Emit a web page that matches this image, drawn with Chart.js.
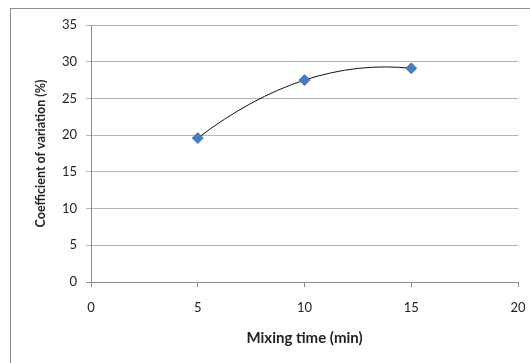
<!DOCTYPE html>
<html>
<head>
<meta charset="utf-8">
<script src="https://cdn.jsdelivr.net/npm/chart.js@4"></script>
<style>
  html, body { margin: 0; padding: 0; background: #fff; }
  #wrap { position: relative; width: 530px; height: 363px; overflow: hidden; }
  #frame { position: absolute; left: 10px; top: 8px; width: 600px; height: 400px; border: 1px solid #8c8c8c; }
  #chart { position: absolute; left: 0; top: 0; }
</style>
</head>
<body>
<div id="wrap">
  <div id="frame"></div>
  <canvas id="chart" width="530" height="363"></canvas>
</div>
<script>
// --- Data ---
const mixingTimes = [5, 10, 15];
const cvValues = [19.6, 27.5, 29.1];
const xTicks = [0, 5, 10, 15, 20];
const yTicks = [0, 5, 10, 15, 20, 25, 30, 35];

const points = mixingTimes.map((t, i) => ({ x: t, y: cvValues[i] }));
const fontFamily = 'Lato, "Open Sans", sans-serif';
const tickFont = { family: fontFamily, size: 13 };

// Smooth the trend line with 3-point finite-difference tangents
// (reproduces a parabola exactly, unlike Chart.js's end conditions)
const smoothTrend = {
    id: 'smoothTrend',
    beforeDatasetDraw(chart, args) {
        if (args.index !== 0) return;
        const line = args.meta.dataset;
        line.updateControlPoints(chart.chartArea, 'x');
        const pts = args.meta.data;
        const n = pts.length;
        if (n < 3) return;
        for (let i = 0; i < n; i++) {
            let m;
            if (i === 0) {
                m = (-3 * pts[0].y + 4 * pts[1].y - pts[2].y) / (pts[2].x - pts[0].x);
            } else if (i === n - 1) {
                m = (pts[i - 2].y - 4 * pts[i - 1].y + 3 * pts[i].y) / (pts[i].x - pts[i - 2].x);
            } else {
                m = (pts[i + 1].y - pts[i - 1].y) / (pts[i + 1].x - pts[i - 1].x);
            }
            const hPrev = i > 0 ? (pts[i].x - pts[i - 1].x) / 3 : 0;
            const hNext = i < n - 1 ? (pts[i + 1].x - pts[i].x) / 3 : 0;
            pts[i].cp1x = pts[i].x - hPrev;
            pts[i].cp1y = pts[i].y - m * hPrev;
            pts[i].cp2x = pts[i].x + hNext;
            pts[i].cp2y = pts[i].y + m * hNext;
        }
    }
};

new Chart(document.getElementById('chart'), {
    type: 'scatter',
    data: {
        datasets: [
            {
                data: points,
                showLine: true,
                borderColor: '#111',
                borderWidth: 1,
                tension: 0.4,
                pointRadius: 0,
                order: 2
            },
            {
                data: points,
                showLine: false,
                pointStyle: 'rectRot',
                pointRadius: 5.5,
                backgroundColor: '#4a7ebb',
                borderColor: '#4a7ebb',
                order: 1
            }
        ]
    },
    plugins: [smoothTrend],
    options: {
        responsive: false,
        animation: false,
        layout: { padding: { left: 0, top: 25, right: 2, bottom: 0 } },
        plugins: { legend: { display: false }, tooltip: { enabled: false } },
        scales: {
            x: {
                type: 'linear',
                min: 0, max: 20,
                afterFit: s => { s.height = 81; s.paddingRight = 12; },
                afterBuildTicks: s => { s.ticks = xTicks.map(v => ({ value: v })); },
                grid: { drawOnChartArea: false, drawTicks: true, tickLength: 5, color: '#8c8c8c' },
                border: { color: '#8c8c8c' },
                ticks: { font: tickFont, color: '#222', padding: 13 },
                title: {
                    display: true, text: 'Mixing time (min)', color: '#222',
                    font: { family: fontFamily, size: 15, weight: 'bold' },
                    padding: { top: 4, bottom: 16 }
                }
            },
            y: {
                min: 0, max: 35,
                afterFit: s => { s.width = 91; },
                afterBuildTicks: s => { s.ticks = yTicks.map(v => ({ value: v })); },
                grid: {
                    drawTicks: true, tickLength: 5,
                    color: ctx => ctx.tick && ctx.tick.value === 0 ? '#8c8c8c' : '#b4b4b4'
                },
                border: { color: '#8c8c8c' },
                ticks: { font: tickFont, color: '#222', padding: 9 },
                title: {
                    display: true, text: 'Coefficient of variation (%)', color: '#222',
                    font: { family: fontFamily, size: 12.5, weight: 'bold' },
                    padding: { top: 33, bottom: 4 }
                }
            }
        }
    }
});
</script>
</body>
</html>
